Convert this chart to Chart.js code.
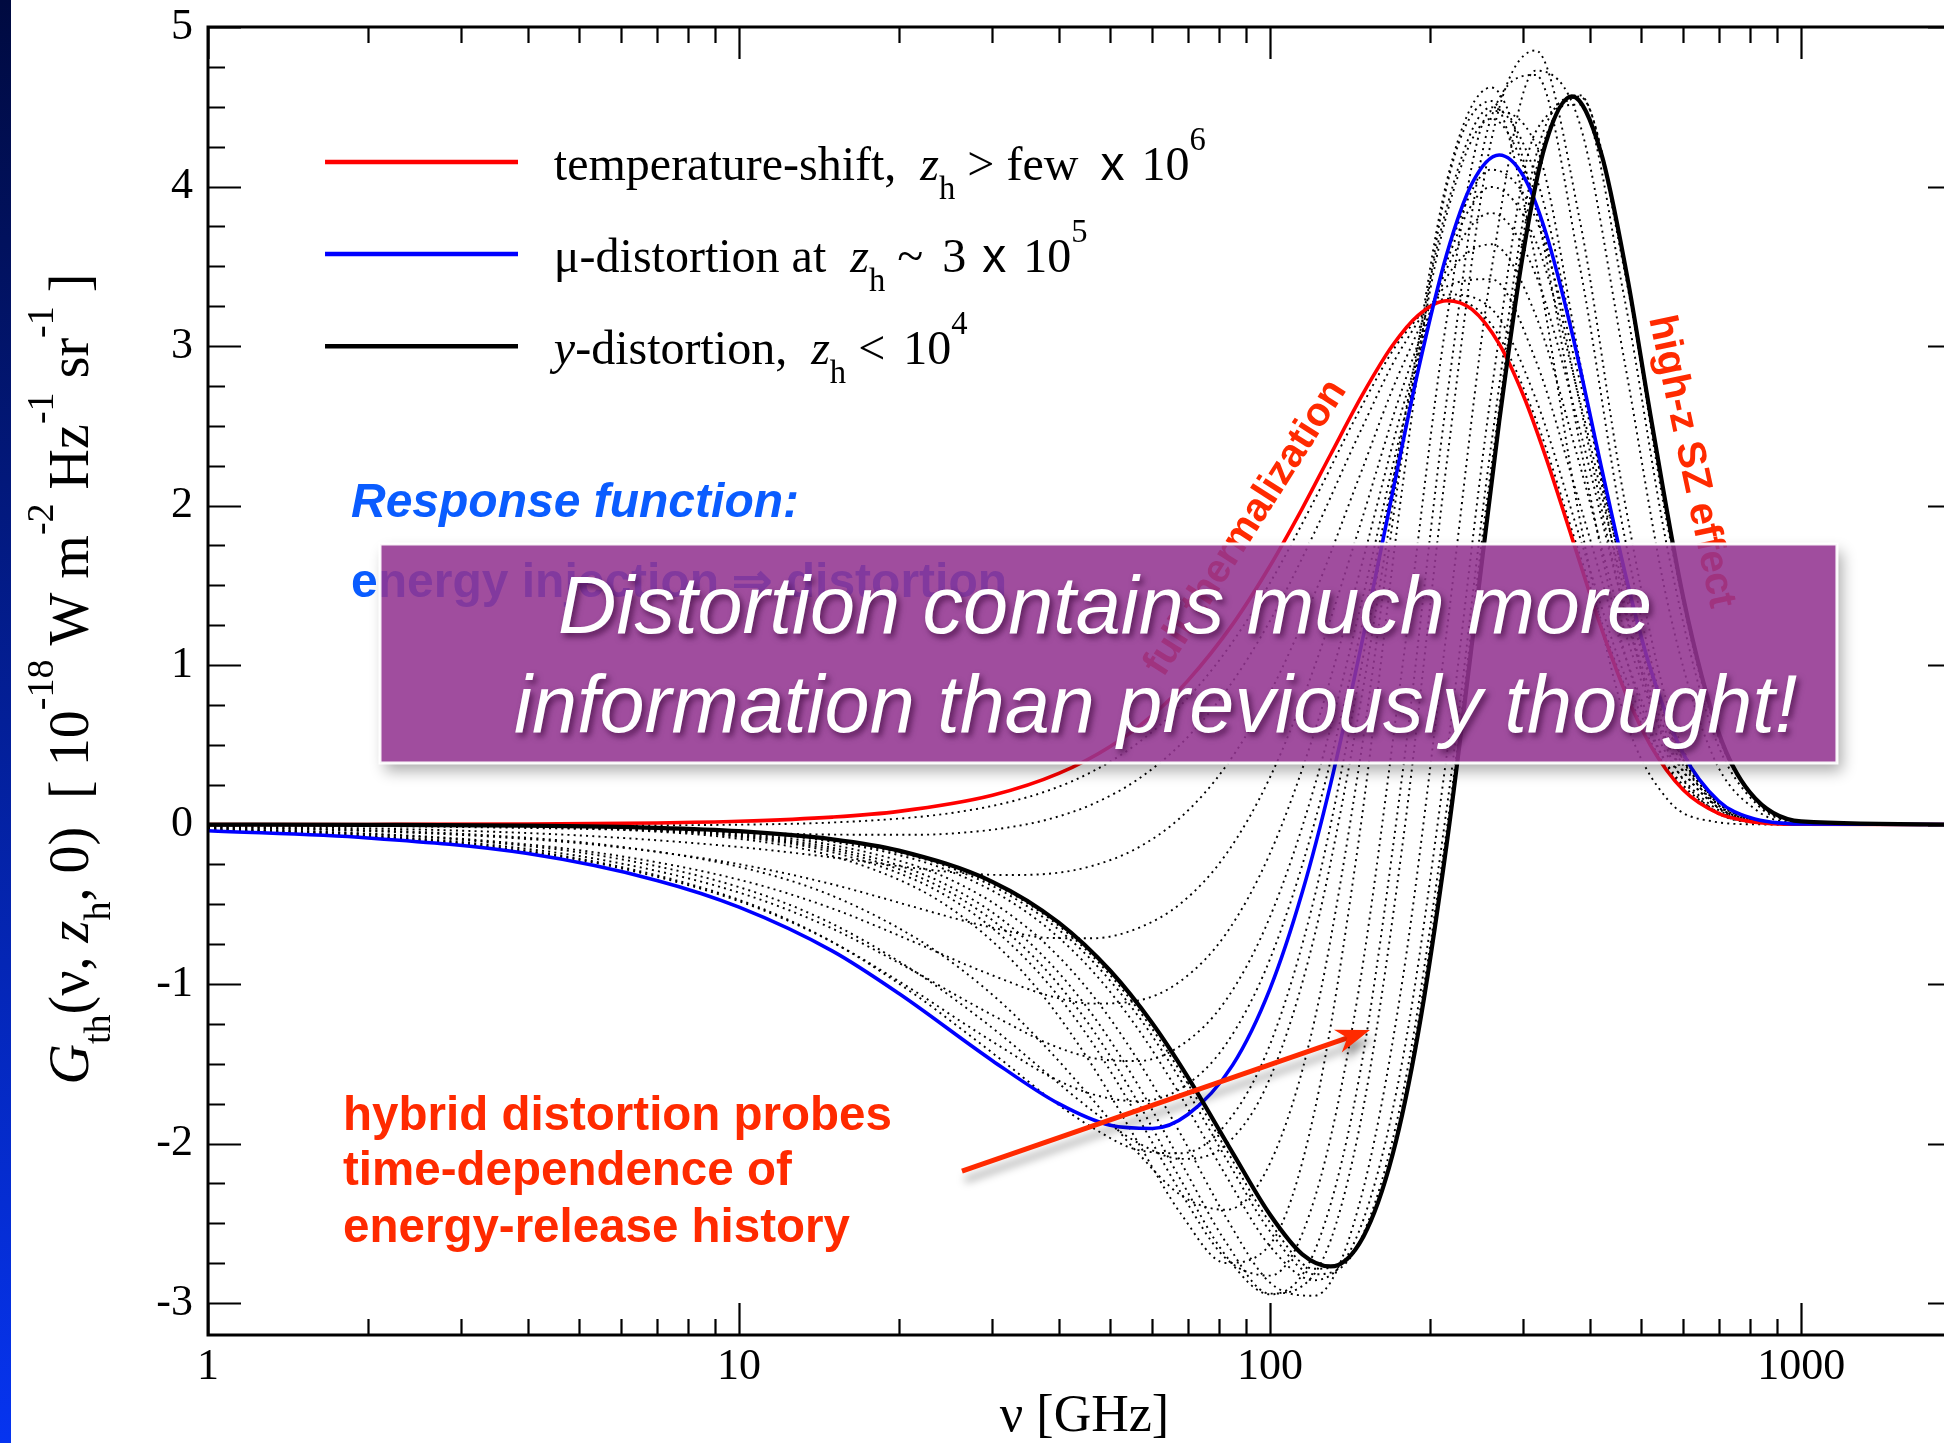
<!DOCTYPE html>
<html><head><meta charset="utf-8">
<style>
html,body{margin:0;padding:0;background:#fff;overflow:hidden;width:1944px;height:1443px;}
#wrap{position:absolute;left:0;top:0;width:2000px;height:1443px;}
#stripe{position:absolute;left:0;top:0;width:11px;height:1443px;background:linear-gradient(#000a40,#0634f0);z-index:5}
</style>
<script src="https://cdn.jsdelivr.net/npm/chart.js@4.4.1/dist/chart.umd.min.js"></script>
</head><body>
<div id="wrap"><canvas id="c" width="2000" height="1443"></canvas></div>
<div id="stripe"></div>
<script>
// ---------------- data ----------------
const nuSolid = [1, 2, 4, 7, 10, 15, 20, 30, 40, 50, 60, 70, 85, 100, 115, 130, 150, 170, 190, 215, 240, 270, 300, 330, 370, 420, 470, 520, 600, 700, 800, 1000, 2000];
const tempShift = [0.0002, 0.0008, 0.0033, 0.0102, 0.0208, 0.0467, 0.0826, 0.1836, 0.3205, 0.4895, 0.6852, 0.9026, 1.2551, 1.6226, 1.9827, 2.3198, 2.7075, 3.0029, 3.1925, 3.2842, 3.2297, 3.0130, 2.6880, 2.3097, 1.8003, 1.2363, 0.8036, 0.4985, 0.2164, 0.0687, 0.0201, 0.0015, 0];
const muDist = [-0.0387, -0.0838, -0.182, -0.350, -0.5175, -0.793, -1.059, -1.480, -1.750, -1.885, -1.905, -1.818, -1.508, -1.028, -0.423, 0.254, 1.191, 2.078, 2.846, 3.574, 4.019, 4.198, 4.065, 3.718, 3.088, 2.249, 1.527, 0.980, 0.4436, 0.146, 0.0439, 0.0033, 0];
const yDist = [-0.0004, -0.0017, -0.0067, -0.0204, -0.0415, -0.0928, -0.1635, -0.3587, -0.6148, -0.9165, -1.2453, -1.5832, -2.0580, -2.4464, -2.6940, -2.7701, -2.5803, -2.0721, -1.3080, -0.1242, 1.1367, 2.5247, 3.5952, 4.2654, 4.5649, 4.2113, 3.4411, 2.5722, 1.4212, 0.5722, 0.2030, 0.0198, 0];

const nuHybrid = [1, 1.778, 3.162, 5.623, 10, 14.68, 21.54, 26.10, 31.62, 38.31, 46.42, 56.23, 68.13, 82.54, 100, 121.2, 146.8, 177.8, 215.4, 261.0, 316.2, 383.1, 464.2, 562.3, 681.3, 825.4, 1000, 2000];
const hybA1 = [-0.0013, -0.0022, -0.0036, -0.0047, -0.0007, 0.0117, 0.0465, 0.0807, 0.1341, 0.2145, 0.3346, 0.5079, 0.7526, 1.0854, 1.5163, 2.0351, 2.5865, 3.0610, 3.2964, 3.1359, 2.5448, 1.6905, 0.8770, 0.3369, 0.0897, 0.0151, 0.0015, 0];
const hybA2 = [-0.0048, -0.0089, -0.0165, -0.0299, -0.0492, -0.0624, -0.0643, -0.0521, -0.0218, 0.0336, 0.1297, 0.2811, 0.5094, 0.8362, 1.2778, 1.8303, 2.4416, 2.9987, 3.3234, 3.2341, 2.6719, 1.8008, 0.9450, 0.3665, 0.0982, 0.0166, 0.0017, 0];
const hybA3 = [-0.0115, -0.0214, -0.0407, -0.0776, -0.1408, -0.2024, -0.2737, -0.3027, -0.3165, -0.3084, -0.2574, -0.1472, 0.0501, 0.3656, 0.8273, 1.4435, 2.1682, 2.8807, 3.3746, 3.4194, 2.9121, 2.0089, 1.0736, 0.4223, 0.1145, 0.0196, 0.0021, 0];
const hybA4 = [-0.0193, -0.0361, -0.0693, -0.1337, -0.2486, -0.3671, -0.5199, -0.5976, -0.6631, -0.7107, -0.7128, -0.6511, -0.4903, -0.1880, 0.2974, 0.9885, 1.8464, 2.7419, 3.4347, 3.6376, 3.1948, 2.2538, 1.2247, 0.4879, 0.1336, 0.0231, 0.0025, 0];
const hybA5 = [-0.0262, -0.0494, -0.0950, -0.1842, -0.3455, -0.5154, -0.7416, -0.8631, -0.9750, -1.0727, -1.1225, -1.1045, -0.9765, -0.6863, -0.1796, 0.5789, 1.5568, 2.6170, 3.4887, 3.8337, 3.4491, 2.4741, 1.3608, 0.5470, 0.1509, 0.0262, 0.0027, 0];
const hybA6 = [-0.0321, -0.0605, -0.1165, -0.2263, -0.4264, -0.6389, -0.9262, -1.0844, -1.2349, -1.3743, -1.4640, -1.4825, -1.3818, -1.1016, -0.5770, 0.2376, 1.3154, 2.5130, 3.5338, 3.9973, 3.6611, 2.6578, 1.4742, 0.5962, 0.1652, 0.0287, 0.0030, 0];
const hybA7 = [-0.0360, -0.0679, -0.1308, -0.2543, -0.4801, -0.7213, -1.0494, -1.2318, -1.4082, -1.5755, -1.6917, -1.7344, -1.6520, -1.3784, -0.8420, 0.0100, 1.1546, 2.4436, 3.5639, 4.1064, 3.8024, 2.7802, 1.5497, 0.6291, 0.1747, 0.0305, 0.0032, 0];
const hybB0 = [-0.0343, -0.0647, -0.1255, -0.2462, -0.4718, -0.7194, -1.0706, -1.2770, -1.4908, -1.7118, -1.9025, -2.0388, -2.0606, -1.8782, -1.3781, -0.4553, 0.8982, 2.4919, 3.8764, 4.4972, 4.0702, 2.8661, 1.5339, 0.6011, 0.1632, 0.0281, 0.0029, 0];
const hybB1 = [-0.0274, -0.0520, -0.1016, -0.2012, -0.3919, -0.6076, -0.9257, -1.1219, -1.3361, -1.5708, -1.7972, -1.9927, -2.0961, -2.0074, -1.5881, -0.6984, 0.6950, 2.3810, 3.8326, 4.4247, 3.8989, 2.6370, 1.3483, 0.5065, 0.1335, 0.0226, 0.0023, 0];
const hybB2 = [-0.0161, -0.0310, -0.0622, -0.1281, -0.2651, -0.4345, -0.7118, -0.9031, -1.1346, -1.4141, -1.7280, -2.0546, -2.3266, -2.4153, -2.1222, -1.2296, 0.3493, 2.3456, 4.0403, 4.6213, 3.8611, 2.3890, 1.0872, 0.3595, 0.0855, 0.0135, 0.0013, 0];
const hybB3 = [-0.0009, -0.0028, -0.0090, -0.0284, -0.0890, -0.1891, -0.3963, -0.5678, -0.8043, -1.1194, -1.5194, -1.9851, -2.4464, -2.7483, -2.6326, -1.7999, -0.1039, 2.1348, 4.0097, 4.5357, 3.5394, 1.9117, 0.6864, 0.1518, 0.0198, 0.0013, 0, 0];
const hybB4 = [-0.0008, -0.0024, -0.0079, -0.0248, -0.0780, -0.1660, -0.3492, -0.5019, -0.7145, -1.0021, -1.3754, -1.8283, -2.3150, -2.7197, -2.8279, -2.3479, -1.0419, 1.0103, 3.1790, 4.4732, 4.2643, 2.9026, 1.3946, 0.4534, 0.0934, 0.0116, 0.0007, 0];
const hybB5 = [-0.0007, -0.0023, -0.0072, -0.0227, -0.0714, -0.1520, -0.3209, -0.4623, -0.6606, -0.9317, -1.2890, -1.7341, -2.2362, -2.7025, -2.9450, -2.6767, -1.6047, 0.3356, 2.6805, 4.4356, 4.6993, 3.4970, 1.8196, 0.6344, 0.1376, 0.0177, 0.0011, 0];
const hybB6 = [-0.0006, -0.0020, -0.0065, -0.0207, -0.0652, -0.1389, -0.2938, -0.4240, -0.6075, -0.8606, -1.1978, -1.6258, -2.1241, -2.6176, -2.9407, -2.8169, -1.9259, -0.1112, 2.2842, 4.2904, 4.8532, 3.7872, 2.0455, 0.7344, 0.1624, 0.0212, 0.0014, 0];
const hybB7 = [-0.0006, -0.0018, -0.0058, -0.0182, -0.0573, -0.1224, -0.2594, -0.3751, -0.5389, -0.7665, -1.0738, -1.4713, -1.9508, -2.4604, -2.8722, -2.9538, -2.3962, -0.9623, 1.2289, 3.4732, 4.7263, 4.3915, 2.9167, 1.3677, 0.4343, 0.0878, 0.0107, 0];
const hybB8 = [-0.0005, -0.0015, -0.0049, -0.0154, -0.0484, -0.1037, -0.2200, -0.3188, -0.4590, -0.6553, -0.9233, -1.2754, -1.7118, -2.1997, -2.6442, -2.8568, -2.5561, -1.4659, 0.4506, 2.7102, 4.3417, 4.5135, 3.3094, 1.7010, 0.5871, 0.1264, 0.0161, 0];
const hybB9 = [-0.0005, -0.0014, -0.0045, -0.0142, -0.0447, -0.0958, -0.2034, -0.2950, -0.4254, -0.6085, -0.8599, -1.1929, -1.6115, -2.0907, -2.5500, -2.8192, -2.6283, -1.6843, 0.1169, 2.3864, 4.1826, 4.5721, 3.4828, 1.8465, 0.6536, 0.1432, 0.0185, 0];
const hybB10 = [-0.0004, -0.0014, -0.0043, -0.0137, -0.0429, -0.0920, -0.1954, -0.2836, -0.4091, -0.5858, -0.8290, -1.1522, -1.5608, -2.0334, -2.4951, -2.7849, -2.6388, -1.7591, -0.0159, 2.2418, 4.0909, 4.5639, 3.5274, 1.8914, 0.6753, 0.1488, 0.0194, 0];
const hybridSeries = [hybA1, hybA2, hybA3, hybA4, hybA5, hybA6, hybA7, hybB0, hybB1, hybB2, hybB3, hybB4, hybB5, hybB6, hybB7, hybB8, hybB9, hybB10];

const xTickValues = [1, 10, 100, 1000];
const yTickValues = [-3, -2, -1, 0, 1, 2, 3, 4, 5];

// ---------------- styles ----------------
const SERIF = '"Liberation Serif", "Times New Roman", serif';
const SANS = '"Liberation Sans", Arial, sans-serif';
const ANNOT = '#ff2a00';
const solid = [
  {label: 'y-distortion', data: yDist, color: '#000000', width: 4.2, order: 1},
  {label: 'μ-distortion', data: muDist, color: '#0000ff', width: 3.6, order: 2},
  {label: 'temperature-shift', data: tempShift, color: '#ff0000', width: 3.6, order: 3}
];

const datasets = [];
solid.forEach(s => datasets.push({
  label: s.label,
  data: nuSolid.map((v, i) => ({x: v, y: s.data[i]})),
  borderColor: s.color, borderWidth: s.width, order: s.order,
  cubicInterpolationMode: 'monotone', pointRadius: 0, fill: false
}));
hybridSeries.forEach((h, k) => datasets.push({
  label: 'hybrid ' + (k + 1),
  data: nuHybrid.map((v, i) => ({x: v, y: h[i]})),
  borderColor: '#000', borderWidth: 1.9, borderDash: [2, 4.2], borderCapStyle: 'butt',
  order: 10, cubicInterpolationMode: 'monotone', pointRadius: 0, fill: false
}));

// legend rows (rich text); pad = extra px after a run
const legendRows = [
  {ds: 2, runs: [{t: 'temperature-shift,  '}, {t: 'z', it: 1}, {t: 'h', sub: 1}, {t: ' > few ', pad: 10}, {t: 'x', sans: 1, pad: 5}, {t: ' 10'}, {t: '6', sup: 1}]},
  {ds: 1, runs: [{t: 'μ-distortion at ', pad: 12}, {t: 'z', it: 1}, {t: 'h', sub: 1}, {t: ' ~ ', pad: 7}, {t: '3 ', pad: 4}, {t: 'x', sans: 1, pad: 5}, {t: ' 10'}, {t: '5', sup: 1}]},
  {ds: 0, runs: [{t: 'y', it: 1}, {t: '-distortion,  '}, {t: 'z', it: 1}, {t: 'h', sub: 1}, {t: ' < ', pad: 6}, {t: '10'}, {t: '4', sup: 1}]}
];
const legendNu = [1.661, 3.835, 4.48];   // line start, line end, text start
const legendG = [4.154, 3.577, 2.999];

function drawRuns(ctx, runs, x, y, size, family) {
  let cx = x;
  for (const r of runs) {
    let fs = size, dy = 0;
    if (r.sub) { fs = size * 0.68; dy = size * 0.40; }
    if (r.sup) { fs = size * 0.68; dy = -size * 0.62; }
    const fam = r.sans ? SANS : family;
    ctx.font = (r.it ? 'italic ' : '') + fs + 'px ' + fam;
    ctx.fillText(r.t, cx, y + dy);
    cx += ctx.measureText(r.t).width + (r.pad || 0);
  }
  return cx - x;
}
function measureRuns(ctx, runs, size, family) {
  let w = 0;
  for (const r of runs) {
    const fs = (r.sub || r.sup) ? size * 0.68 : size;
    ctx.font = (r.it ? 'italic ' : '') + fs + 'px ' + (r.sans ? SANS : family);
    w += ctx.measureText(r.t).width + (r.pad || 0);
  }
  return w;
}

const yTitleRuns = [{t: 'G', it: 1}, {t: 'th', sub: 1}, {t: '(ν, '}, {t: 'z', it: 1}, {t: 'h', sub: 1}, {t: ', 0)  [ 10'}, {t: '-18', sup: 1}, {t: ' W m'}, {t: '-2', sup: 1}, {t: ' Hz'}, {t: '-1', sup: 1}, {t: ' sr'}, {t: '-1', sup: 1}, {t: ' ]'}];

const decor = {
  id: 'decor',
  afterDatasetsDraw(chart) {
    const {ctx, scales: {x, y}} = chart;
    const X = v => x.getPixelForValue(v), Y = v => y.getPixelForValue(v);
    ctx.save();
    ctx.textAlign = 'left'; ctx.textBaseline = 'alphabetic';
    // blue annotation texts
    ctx.fillStyle = '#0a5cff';
    ctx.font = 'italic bold 48px ' + SANS;
    ctx.fillText('Response function:', X(1.859), Y(1.928));
    ctx.font = 'bold 48px ' + SANS;
    ctx.fillText('energy injection \u21D2 distortion', X(1.859), Y(1.427));
    // rotated red texts
    const rot = (txt, nu, g, deg) => {
      ctx.save(); ctx.translate(X(nu), Y(g)); ctx.rotate(deg * Math.PI / 180);
      ctx.font = 'bold 40px ' + SANS; ctx.fillStyle = ANNOT; ctx.textAlign = 'center';
      ctx.fillText(txt, 0, 0); ctx.restore();
    };
    rot('full thermalization', 93.7, 1.822, -57.5);
    rot('high-z SZ effect', 591.6, 2.261, 78);

    // purple box
    const bx1 = X(2.108), bx2 = X(1168), by1 = Y(1.759), by2 = Y(0.386);
    ctx.save();
    ctx.beginPath(); ctx.rect(0, 0, 2000, 1443); ctx.rect(bx1, by1, bx2 - bx1, by2 - by1); ctx.clip('evenodd');
    ctx.shadowColor = 'rgba(0,0,0,0.33)'; ctx.shadowBlur = 14; ctx.shadowOffsetX = 5; ctx.shadowOffsetY = 8;
    ctx.fillStyle = '#000'; ctx.fillRect(bx1, by1, bx2 - bx1, by2 - by1);
    ctx.restore();
    ctx.fillStyle = 'rgba(147,52,145,0.88)';
    ctx.fillRect(bx1, by1, bx2 - bx1, by2 - by1);
    ctx.strokeStyle = 'rgba(255,255,255,0.95)'; ctx.lineWidth = 3;
    ctx.strokeRect(bx1, by1, bx2 - bx1, by2 - by1);
    ctx.save();
    ctx.shadowColor = 'rgba(50,0,50,0.65)'; ctx.shadowBlur = 6; ctx.shadowOffsetX = 3; ctx.shadowOffsetY = 4;
    ctx.fillStyle = '#ffffff'; ctx.font = 'italic 81px ' + SANS;
    ctx.fillText('Distortion contains much more', X(4.561), Y(1.201));
    ctx.fillText('information than previously thought!', X(3.769), Y(0.581));
    ctx.restore();

    // hybrid text
    ctx.fillStyle = ANNOT; ctx.font = 'bold 47.5px ' + SANS;
    ctx.fillText('hybrid distortion probes', X(1.796), Y(-1.915));
    ctx.fillText('time-dependence of', X(1.796), Y(-2.260));
    ctx.fillText('energy-release history', X(1.796), Y(-2.617));
    // arrow
    const ax1 = X(26.29), ay1 = Y(-2.172), ax2 = X(154.2), ay2 = Y(-1.288);
    const ang = Math.atan2(ay2 - ay1, ax2 - ax1);
    ctx.save();
    ctx.shadowColor = 'rgba(0,0,0,0.35)'; ctx.shadowBlur = 9; ctx.shadowOffsetX = 3; ctx.shadowOffsetY = 9;
    ctx.strokeStyle = ANNOT; ctx.fillStyle = ANNOT; ctx.lineWidth = 5; ctx.lineCap = 'butt';
    ctx.translate(ax1, ay1); ctx.rotate(ang);
    const L = Math.hypot(ax2 - ax1, ay2 - ay1);
    ctx.beginPath(); ctx.moveTo(0, 0); ctx.lineTo(L - 20, 0); ctx.stroke();
    ctx.beginPath(); ctx.moveTo(L, 0); ctx.lineTo(L - 34, -12); ctx.lineTo(L - 24, 0); ctx.lineTo(L - 34, 12); ctx.closePath(); ctx.fill();
    ctx.restore();

    // legend
    const ds = chart.data.datasets;
    legendRows.forEach((row, i) => {
      const yy = Y(legendG[i]);
      ctx.strokeStyle = ds[row.ds].borderColor; ctx.lineWidth = 4.5;
      ctx.beginPath(); ctx.moveTo(X(legendNu[0]), yy); ctx.lineTo(X(legendNu[1]), yy); ctx.stroke();
      ctx.fillStyle = '#000';
      drawRuns(ctx, row.runs, X(legendNu[2]), yy + 18, 48, SERIF);
    });
    ctx.restore();
  },
  afterDraw(chart) {
    const {ctx, chartArea: a, scales: {x, y}} = chart;
    ctx.save();
    ctx.strokeStyle = '#000';
    ctx.lineWidth = 2.2;
    ctx.beginPath();
    for (let d = 0; d <= 3; d++) for (let m = 1; m <= 9; m++) {
      const v = m * Math.pow(10, d); if (v > 2000) continue;
      const px = Math.round(x.getPixelForValue(v)) + 0.5;
      const len = m === 1 ? 32 : 16;
      ctx.moveTo(px, a.bottom); ctx.lineTo(px, a.bottom - len);
      ctx.moveTo(px, a.top); ctx.lineTo(px, a.top + len);
    }
    for (let k = 0; k <= 32; k++) {
      const v = -3 + 0.25 * k;
      const py = Math.round(y.getPixelForValue(v)) + 0.5;
      const len = (k % 4 === 0) ? 33 : 17;
      ctx.moveTo(a.left, py); ctx.lineTo(a.left + len, py);
      ctx.moveTo(a.right, py); ctx.lineTo(a.right - len, py);
    }
    ctx.stroke();
    ctx.lineWidth = 3;
    ctx.strokeRect(a.left, a.top, a.right - a.left, a.bottom - a.top);
    // y-axis title
    ctx.fillStyle = '#000'; ctx.textAlign = 'left'; ctx.textBaseline = 'alphabetic';
    const w = measureRuns(ctx, yTitleRuns, 56, SERIF);
    ctx.translate(88, 679 + w / 2);
    ctx.rotate(-Math.PI / 2);
    drawRuns(ctx, yTitleRuns, 0, 0, 56, SERIF);
    ctx.restore();
  }
};

new Chart(document.getElementById('c').getContext('2d'), {
  type: 'line',
  data: {datasets},
  options: {
    responsive: false, animation: false, devicePixelRatio: 1,
    layout: {padding: {top: 27, right: 39, left: 0, bottom: 0}},
    plugins: {legend: {display: false}, tooltip: {enabled: false}},
    elements: {point: {radius: 0}},
    scales: {
      x: {
        type: 'logarithmic', min: 1, max: 2000, position: 'bottom',
        grid: {display: false, drawTicks: false}, border: {display: false},
        afterBuildTicks: s => { s.ticks = xTickValues.map(v => ({value: v, major: true})); },
        afterFit: s => { s.height = 108; s.paddingLeft = 0; s.paddingRight = 0; },
        ticks: {callback: v => String(v), font: {family: SERIF, size: 44}, color: '#000', padding: 6, maxRotation: 0, autoSkip: false},
        title: {display: true, text: 'ν [GHz]', font: {family: SERIF, size: 52, lineHeight: 1}, color: '#000', padding: 0}
      },
      y: {
        type: 'linear', min: -3.2, max: 5, position: 'left',
        grid: {display: false, drawTicks: false}, border: {display: false},
        afterBuildTicks: s => { s.ticks = yTickValues.map(v => ({value: v})); },
        afterFit: s => { s.width = 208; s.paddingTop = 0; s.paddingBottom = 0; },
        ticks: {callback: v => String(v), font: {family: SERIF, size: 44, lineHeight: 1}, color: '#000', padding: 15}
      }
    }
  },
  plugins: [decor]
});
</script>
</body></html>
